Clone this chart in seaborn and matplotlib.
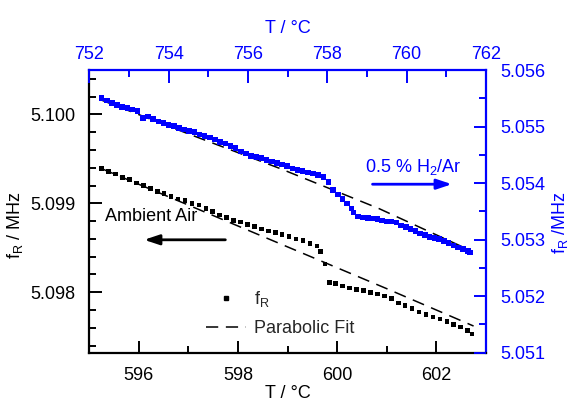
import matplotlib
matplotlib.use("Agg")
import matplotlib.pyplot as plt
import seaborn as sns
from matplotlib.ticker import MultipleLocator, FormatStrFormatter
from matplotlib.lines import Line2D

# ---------------- data ----------------
# Ambient air (bottom / left axes)
T_air = [595.25, 595.39, 595.53, 595.67, 595.81, 595.95, 596.09, 596.23, 596.37, 596.51,
         596.65, 596.79, 596.93, 597.07, 597.21, 597.35, 597.49, 597.63, 597.77, 597.91,
         598.05, 598.19, 598.33, 598.47, 598.61, 598.75, 598.89, 599.03, 599.17, 599.31,
         599.45, 599.59, 599.66, 599.75,
         599.84, 599.97, 600.11, 600.25, 600.39, 600.53, 600.67, 600.81, 600.95, 601.09,
         601.23, 601.37, 601.51, 601.65, 601.79, 601.93, 602.07, 602.21, 602.35, 602.49,
         602.63, 602.72]
f_air = [5.09939, 5.09936, 5.09933, 5.09929, 5.09927, 5.09923, 5.09920, 5.09917, 5.09913, 5.09911,
         5.09908, 5.09905, 5.09903, 5.09900, 5.09898, 5.09894, 5.09891, 5.09887, 5.09884, 5.09881,
         5.09879, 5.09876, 5.09874, 5.09871, 5.09869, 5.09867, 5.09865, 5.09863, 5.09860, 5.09858,
         5.09855, 5.09852, 5.09846, 5.09832,
         5.09811, 5.09810, 5.09807, 5.09805, 5.09803, 5.09802, 5.09800, 5.09798, 5.09796, 5.09793,
         5.09788, 5.09785, 5.09782, 5.09778, 5.09775, 5.09772, 5.09770, 5.09767, 5.09764, 5.09761,
         5.09757, 5.09753]
fit_air_T = [595.25, 597.0, 599.0, 601.0, 602.75]
fit_air_f = [5.09939, 5.09898, 5.09851, 5.09804, 5.09762]

# 0.5 % H2/Ar (top / right axes)
T_h2 = [752.31, 752.44, 752.57, 752.70, 752.83, 752.96, 753.09, 753.22, 753.36, 753.48,
        753.61, 753.74, 753.87, 754.00, 754.13, 754.26, 754.39, 754.52, 754.65, 754.78,
        754.91, 755.04, 755.17, 755.30, 755.43, 755.56, 755.69, 755.82, 755.95, 756.08,
        756.21, 756.34, 756.47, 756.60, 756.73, 756.86, 756.99, 757.12, 757.25, 757.38,
        757.51, 757.64, 757.77, 757.90, 758.03, 758.15, 758.27, 758.38, 758.50, 758.61,
        758.66, 758.78, 758.90, 759.02, 759.14, 759.26, 759.38, 759.50, 759.62, 759.74,
        759.86, 759.98, 760.10, 760.22, 760.34, 760.46, 760.58, 760.70, 760.82, 760.94,
        761.06, 761.18, 761.30, 761.42, 761.54, 761.60]
f_h2 = [5.05550, 5.05546, 5.05542, 5.05538, 5.05535, 5.05533, 5.05530, 5.05527, 5.05515, 5.05518,
        5.05513, 5.05509, 5.05506, 5.05503, 5.05501, 5.05497, 5.05495, 5.05492, 5.05490, 5.05486,
        5.05483, 5.05481, 5.05477, 5.05473, 5.05470, 5.05466, 5.05462, 5.05456, 5.05452, 5.05448,
        5.05446, 5.05444, 5.05441, 5.05438, 5.05436, 5.05433, 5.05430, 5.05426, 5.05423, 5.05421,
        5.05419, 5.05417, 5.05414, 5.05411, 5.05402, 5.05388, 5.05380, 5.05372, 5.05364, 5.05355,
        5.05348, 5.05341, 5.05339, 5.05338, 5.05337, 5.05336, 5.05334, 5.05332, 5.05332, 5.05330,
        5.05325, 5.05322, 5.05319, 5.05315, 5.05311, 5.05308, 5.05305, 5.05303, 5.05301, 5.05298,
        5.05294, 5.05290, 5.05286, 5.05283, 5.05280, 5.05277]
fit_h2_T = [752.3, 754.5, 756.8, 759.3, 761.6]
fit_h2_f = [5.05547, 5.05487, 5.05426, 5.05355, 5.05281]

bottom_ticks = [596, 598, 600, 602]
top_ticks = [752, 754, 756, 758, 760, 762]

# ---------------- style ----------------
sns.set_theme(style="ticks")
plt.rcParams["font.family"] = ["Liberation Sans", "DejaVu Sans"]
plt.rcParams["mathtext.fontset"] = "custom"
plt.rcParams["mathtext.rm"] = "Liberation Sans"
plt.rcParams["mathtext.it"] = "Liberation Sans"

BLUE = "#0000FF"
FS = 13
DASH = (0, (8, 5))

fig = plt.figure(figsize=(5.69, 4.03), dpi=100)
rect = [0.1569, 0.1248, 0.6972, 0.7015]
ax = fig.add_axes(rect)
ax2 = fig.add_axes(rect, frameon=False)

# ambient air
sns.scatterplot(x=T_air, y=f_air, ax=ax, marker="s", s=11, color="black",
                edgecolor="none", linewidth=0, zorder=3)
sns.lineplot(x=fit_air_T, y=fit_air_f, ax=ax, color="black", lw=1.1,
             linestyle=DASH, sort=False, estimator=None, zorder=2)

# H2/Ar
sns.scatterplot(x=T_h2, y=f_h2, ax=ax2, marker="s", s=16, color=BLUE,
                edgecolor="none", linewidth=0, zorder=3)
sns.lineplot(x=fit_h2_T, y=fit_h2_f, ax=ax2, color="black", lw=1.1,
             linestyle=DASH, sort=False, estimator=None, zorder=2)

# limits & ticks
ax.set_xlim(595, 603)
ax.set_ylim(5.09732, 5.10050)
ax.set_xticks(bottom_ticks)
ax.xaxis.set_minor_locator(MultipleLocator(1))
ax.yaxis.set_major_locator(MultipleLocator(0.001))
ax.yaxis.set_minor_locator(MultipleLocator(0.0002))
ax.yaxis.set_major_formatter(FormatStrFormatter("%.3f"))

ax2.set_xlim(752, 762)
ax2.set_ylim(5.051, 5.056)
ax2.set_xticks(top_ticks)
ax2.xaxis.set_minor_locator(MultipleLocator(1))
ax2.yaxis.set_major_locator(MultipleLocator(0.001))
ax2.yaxis.set_minor_locator(MultipleLocator(0.0005))
ax2.yaxis.set_major_formatter(FormatStrFormatter("%.3f"))
ax2.xaxis.tick_top()
ax2.yaxis.tick_right()
ax2.xaxis.set_label_position("top")
ax2.yaxis.set_label_position("right")

# spines
for s in ["left", "bottom"]:
    ax.spines[s].set_color("black")
    ax.spines[s].set_linewidth(1.6)
for s in ["top", "right"]:
    ax.spines[s].set_color(BLUE)
    ax.spines[s].set_linewidth(1.6)

ax.tick_params(which="both", direction="in", top=False, right=False,
               width=1.4, colors="black", labelsize=FS)
ax.tick_params(which="major", length=9)
ax.tick_params(which="minor", length=4.8)
ax.tick_params(axis="x", which="major", pad=10.5)
ax.tick_params(axis="y", which="major", pad=10)

ax2.tick_params(which="both", direction="in", top=True, right=True,
                bottom=False, left=False, width=1.4, colors=BLUE, labelsize=FS)
ax2.tick_params(which="major", length=9)
ax2.tick_params(which="minor", length=4.8)
ax2.tick_params(axis="x", which="major", pad=5)
ax2.tick_params(axis="y", which="major", pad=10)

# labels
ax.set_xlabel("T / °C", fontsize=FS, color="black")
ax.set_ylabel(r"f$_\mathregular{R}$ / MHz", fontsize=FS, color="black")
ax2.set_xlabel("T / °C", fontsize=FS, color=BLUE)
ax2.set_ylabel(r"f$_\mathregular{R}$ /MHz", fontsize=FS, color=BLUE)
ax.xaxis.set_label_coords(0.5, -0.113)
ax.yaxis.set_label_coords(-0.162, 0.45)
ax2.xaxis.set_label_coords(0.5, 1.131)
ax2.yaxis.set_label_coords(1.161, 0.462)

# annotations
ax.text(595.32, 5.09880, "Ambient Air", fontsize=FS, color="black",
        ha="left", va="baseline")
ax.annotate("", xy=(596.05, 5.09859), xytext=(597.80, 5.09859),
            arrowprops=dict(arrowstyle="-|>,head_length=0.45,head_width=0.15",
                            mutation_scale=20, lw=2, color="black"))
ax2.text(758.94, 5.05420, r"0.5 % H$_\mathregular{2}$/Ar", fontsize=FS, color=BLUE,
         ha="left", va="baseline")
ax2.annotate("", xy=(761.21, 5.05398), xytext=(759.07, 5.05398),
             arrowprops=dict(arrowstyle="-|>,head_length=0.45,head_width=0.15",
                             mutation_scale=20, lw=2, color=BLUE))

# legend
handles = [Line2D([], [], marker="s", color="black", ls="none", markersize=3.5),
           Line2D([], [], color="black", ls=DASH, lw=1.1)]
labels = [r"f$_\mathregular{R}$", "Parabolic Fit"]
ax2.legend(handles, labels, loc="lower left", bbox_to_anchor=(0.2954, 0.0555),
           frameon=False, fontsize=FS, handlelength=2.2, handletextpad=0.42,
           labelspacing=0.6, borderpad=0, borderaxespad=0)

fig.savefig("out.png", dpi=100)
